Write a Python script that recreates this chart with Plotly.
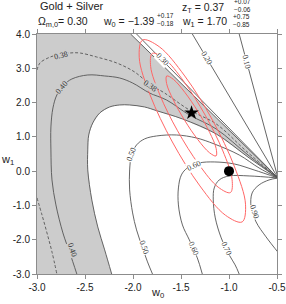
import plotly.graph_objects as go

# ---------------- data ----------------
X_RANGE = [-3.0, -0.5]
Y_RANGE = [-3.0, 4.0]
x_tick_vals = [-3.0, -2.5, -2.0, -1.5, -1.0, -0.5]
x_tick_text = ["-3.0", "-2.5", "-2.0", "-1.5", "-1.0", "-0.5"]
y_tick_vals = [4.0, 3.0, 2.0, 1.0, 0.0, -1.0, -2.0, -3.0]
y_tick_text = ["4.0", "3.0", "2.0", "1.0", "0.0", "-1.0", "-2.0", "-3.0"]

# z_T contours (w0, w1)
c010_w0 = [-0.894, -0.49]
c010_w1 = [4.0, -0.2]
c020_w0 = [-1.382, -0.49]
c020_w1 = [4.0, -0.2]
c030_w0 = [-1.963, -0.49]
c030_w1 = [4.0, -0.2]

# grey band (1-sigma range of z_T): upper edge and inner edge
band_hi_w0 = [-2.025, -0.49]
band_hi_w1 = [4.0, -0.2]
band_in_w0 = [-2.222, -2.295, -2.367, -2.429, -2.471, -2.471, -2.461, -2.419, -2.346,
              -2.243, -2.139, -2.035, -1.880, -1.745, -1.485, -1.133, -0.790, -0.49]
band_in_w1 = [-3.0, -2.297, -1.627, -0.840, 0.035, 0.618, 1.055, 1.405, 1.697,
              1.872, 1.930, 1.930, 1.872, 1.755, 1.522, 1.085, 0.385, -0.2]

# best-fit z_T contour (dashed), two branches
c038a_w0 = [-3.0, -2.969, -2.886, -2.793, -2.658, -2.554, -2.378, -2.170, -1.983,
            -1.828, -1.672, -1.413, -1.133, -0.822, -0.49]
c038a_w1 = [2.95, 3.155, 3.30, 3.388, 3.446, 3.446, 3.329, 3.155, 2.892,
            2.542, 2.280, 1.784, 1.376, 0.589, -0.2]
c038b_w0 = [-3.0, -2.948, -2.896, -2.844, -2.793]
c038b_w1 = [-0.781, -1.277, -1.802, -2.356, -3.0]

c040_w0 = [-2.585, -2.658, -2.730, -2.803, -2.844, -2.855, -2.855, -2.834, -2.793, -2.720,
           -2.637, -2.471, -2.295, -2.139, -2.004, -1.828, -1.651, -1.413, -1.133, -0.790, -0.49]
c040_w1 = [-3.0, -2.385, -1.802, -0.985, -0.257, 0.618, 1.289, 1.843, 2.222, 2.513,
           2.688, 2.805, 2.776, 2.717, 2.571, 2.280, 2.076, 1.638, 1.230, 0.443, -0.2]

c050_w0 = [-1.797, -1.849, -1.900, -1.963, -2.004, -2.035, -2.035, -2.015, -1.963,
           -1.880, -1.755, -1.548, -1.340, -1.154, -0.894, -0.687, -0.49]
c050_w1 = [-3.0, -2.647, -2.239, -1.714, -1.219, -0.548, 0.035, 0.472, 0.764,
           0.939, 1.026, 1.055, 0.968, 0.793, 0.472, 0.093, -0.2]

c060_w0 = [-1.278, -1.330, -1.413, -1.485, -1.527, -1.527, -1.496, -1.434, -1.309,
           -1.154, -0.946, -0.739, -0.49]
c060_w1 = [-3.0, -2.531, -2.006, -1.569, -0.985, -0.490, -0.111, 0.093, 0.239,
           0.268, 0.210, 0.035, -0.2]

c070_w0 = [-0.894, -0.936, -0.998, -1.081, -1.143, -1.164, -1.154, -1.102, -0.998, -0.790, -0.49]
c070_w1 = [-3.0, -2.735, -2.443, -1.948, -1.364, -0.840, -0.490, -0.257, -0.140, -0.140, -0.2]

c090_w0 = [-0.48, -0.614, -0.718, -0.770, -0.759, -0.687, -0.583, -0.49]
c090_w1 = [-2.40, -1.918, -1.481, -1.044, -0.636, -0.402, -0.257, -0.2]

# confidence regions (1, 2, 3 sigma), traced outlines
cl1_w0 = [-1.135, -1.134, -1.202, -1.322, -1.460, -1.580, -1.649, -1.650, -1.582, -1.463, -1.325, -1.204, -1.135]
cl1_w1 = [0.443, 0.662, 1.131, 1.732, 2.297, 2.679, 2.776, 2.557, 2.087, 1.487, 0.921, 0.539, 0.443]
cl2_w0 = [-0.985, -0.968, -1.064, -1.248, -1.471, -1.671, -1.799, -1.816, -1.720, -1.536, -1.313, -1.113, -0.985]
cl2_w1 = [-0.624, -0.239, 0.589, 1.633, 2.618, 3.277, 3.434, 3.050, 2.222, 1.178, 0.192, -0.467, -0.624]
cl3_w0 = [-0.863, -0.828, -0.942, -1.173, -1.461, -1.727, -1.900, -1.935, -1.822, -1.590, -1.303, -1.037, -0.863]
cl3_w1 = [-1.481, -0.965, 0.122, 1.493, 2.776, 3.630, 3.825, 3.309, 2.222, 0.851, -0.431, -1.286, -1.481]

best_w0 = [-1.39]
best_w1 = [1.70]
lcdm_w0 = [-1.0]
lcdm_w1 = [0.0]

# contour labels: text, w0, w1, angle, inside grey band
lab_text = ["0.10", "0.20", "0.30", "0.38", "0.38", "0.40", "0.40", "0.50", "0.50",
            "0.60", "0.60", "0.70", "0.90"]
lab_w0 = [-0.822, -1.226, -1.693, -2.751, -1.828, -2.741, -2.637, -2.015, -1.890,
          -1.361, -1.371, -1.029, -0.739]
lab_w1 = [3.184, 3.300, 3.242, 3.359, 2.484, 2.426, -2.297, 0.472, -2.210,
          0.152, -2.268, -2.268, -1.190]
lab_ang = [76, 60, 46, -13, 35, -50, 71, -70, 71, -25, 66, 65, 72]
lab_grey = [False, False, False, True, True, True, True, False, False,
            False, False, False, False]

# ---------------- styles ----------------
LINE = "#555555"
GREY = "#cccccc"
RED = "#ff6666"
AX = "#8c8c8c"
FONT = "Liberation Sans"

fig = go.Figure()

# grey band
fill_w0 = [X_RANGE[0], X_RANGE[0]] + band_hi_w0 + band_in_w0[::-1]
fill_w1 = [Y_RANGE[0], Y_RANGE[1]] + band_hi_w1 + band_in_w1[::-1]
fig.add_trace(go.Scatter(x=fill_w0, y=fill_w1, mode="lines", fill="toself",
                         fillcolor=GREY, line=dict(width=0), hoverinfo="skip"))


def add_line(xs, ys, dash="solid", shape="spline", color=LINE, width=0.9):
    fig.add_trace(go.Scatter(x=xs, y=ys, mode="lines",
                             line=dict(color=color, width=width, dash=dash,
                                       shape=shape, smoothing=1.0),
                             hoverinfo="skip"))


add_line(band_hi_w0, band_hi_w1, shape="linear")
add_line(band_in_w0, band_in_w1)
add_line(c010_w0, c010_w1, shape="linear")
add_line(c020_w0, c020_w1, shape="linear")
add_line(c030_w0, c030_w1, shape="linear")
add_line(c038a_w0, c038a_w1, dash="3px,2px")
add_line(c038b_w0, c038b_w1, dash="3px,2px")
add_line(c040_w0, c040_w1)
add_line(c050_w0, c050_w1)
add_line(c060_w0, c060_w1)
add_line(c070_w0, c070_w1)
add_line(c090_w0, c090_w1)

for xs, ys in [(cl1_w0, cl1_w1), (cl2_w0, cl2_w1), (cl3_w0, cl3_w1)]:
    add_line(xs, ys, color=RED, width=1.0)

fig.add_trace(go.Scatter(x=lcdm_w0, y=lcdm_w1, mode="markers",
                         marker=dict(color="black", size=10), hoverinfo="skip"))
fig.add_trace(go.Scatter(x=best_w0, y=best_w1, mode="markers",
                         marker=dict(color="black", size=11, symbol="star"),
                         hoverinfo="skip"))

annotations = []
for t, x, y, a, g in zip(lab_text, lab_w0, lab_w1, lab_ang, lab_grey):
    annotations.append(dict(x=x, y=y, xref="x", yref="y", text=t, showarrow=False,
                            textangle=a, bgcolor=GREY if g else "white", borderpad=0,
                            font=dict(family="Liberation Serif", size=8, color="#333333")))


def ptext(text, x, y, size=10.5, xanchor="left"):
    annotations.append(dict(x=x, y=y, xref="paper", yref="paper", text=text,
                            showarrow=False, xanchor=xanchor, yanchor="middle",
                            font=dict(family=FONT, size=size, color="#222222")))


SUP = 6.5
ptext("Gold + Silver", 0.004, 1.117, size=11)
ptext("Ω<sub>m,0</sub>= 0.30", -0.004, 1.05)
ptext("z<sub>T</sub> = 0.37", 0.596, 1.108)
ptext("+0.07", 0.8125, 1.134, size=SUP)
ptext("−0.06", 0.8125, 1.104, size=SUP)
ptext("w<sub>0</sub> = −1.39", 0.496, 1.05, xanchor="right")
ptext("+0.17", 0.4896, 1.077, size=SUP)
ptext("−0.18", 0.4896, 1.042, size=SUP)
ptext("w<sub>1</sub> = 1.70", 0.5958, 1.05)
ptext("+0.75", 0.8083, 1.071, size=SUP)
ptext("−0.85", 0.8083, 1.040, size=SUP)
ptext("w<sub>0</sub>", 0.5, -0.079, size=11, xanchor="center")
ptext("w<sub>1</sub>", -0.121, 0.475, size=11, xanchor="center")

axis_common = dict(showgrid=False, zeroline=False, showline=True, linecolor=AX,
                   linewidth=1, mirror="allticks", ticks="outside", ticklen=4,
                   tickcolor=AX, tickwidth=1, ticklabeloverflow="allow", automargin=False,
                   tickfont=dict(family=FONT, size=10, color="#222222"))

fig.update_layout(
    width=286, height=304, autosize=False,
    margin=dict(l=37, r=9, t=34, b=30, autoexpand=False),
    paper_bgcolor="white", plot_bgcolor="white",
    showlegend=False,
    xaxis=dict(range=X_RANGE, tickvals=x_tick_vals, ticktext=x_tick_text, **axis_common),
    yaxis=dict(range=Y_RANGE, tickvals=y_tick_vals, ticktext=y_tick_text, **axis_common),
    annotations=annotations,
)

fig.write_html("out.html",
               config={"displayModeBar": False, "staticPlot": True, "responsive": False},
               post_script="document.body.style.margin='0';document.body.style.overflow='hidden';")
